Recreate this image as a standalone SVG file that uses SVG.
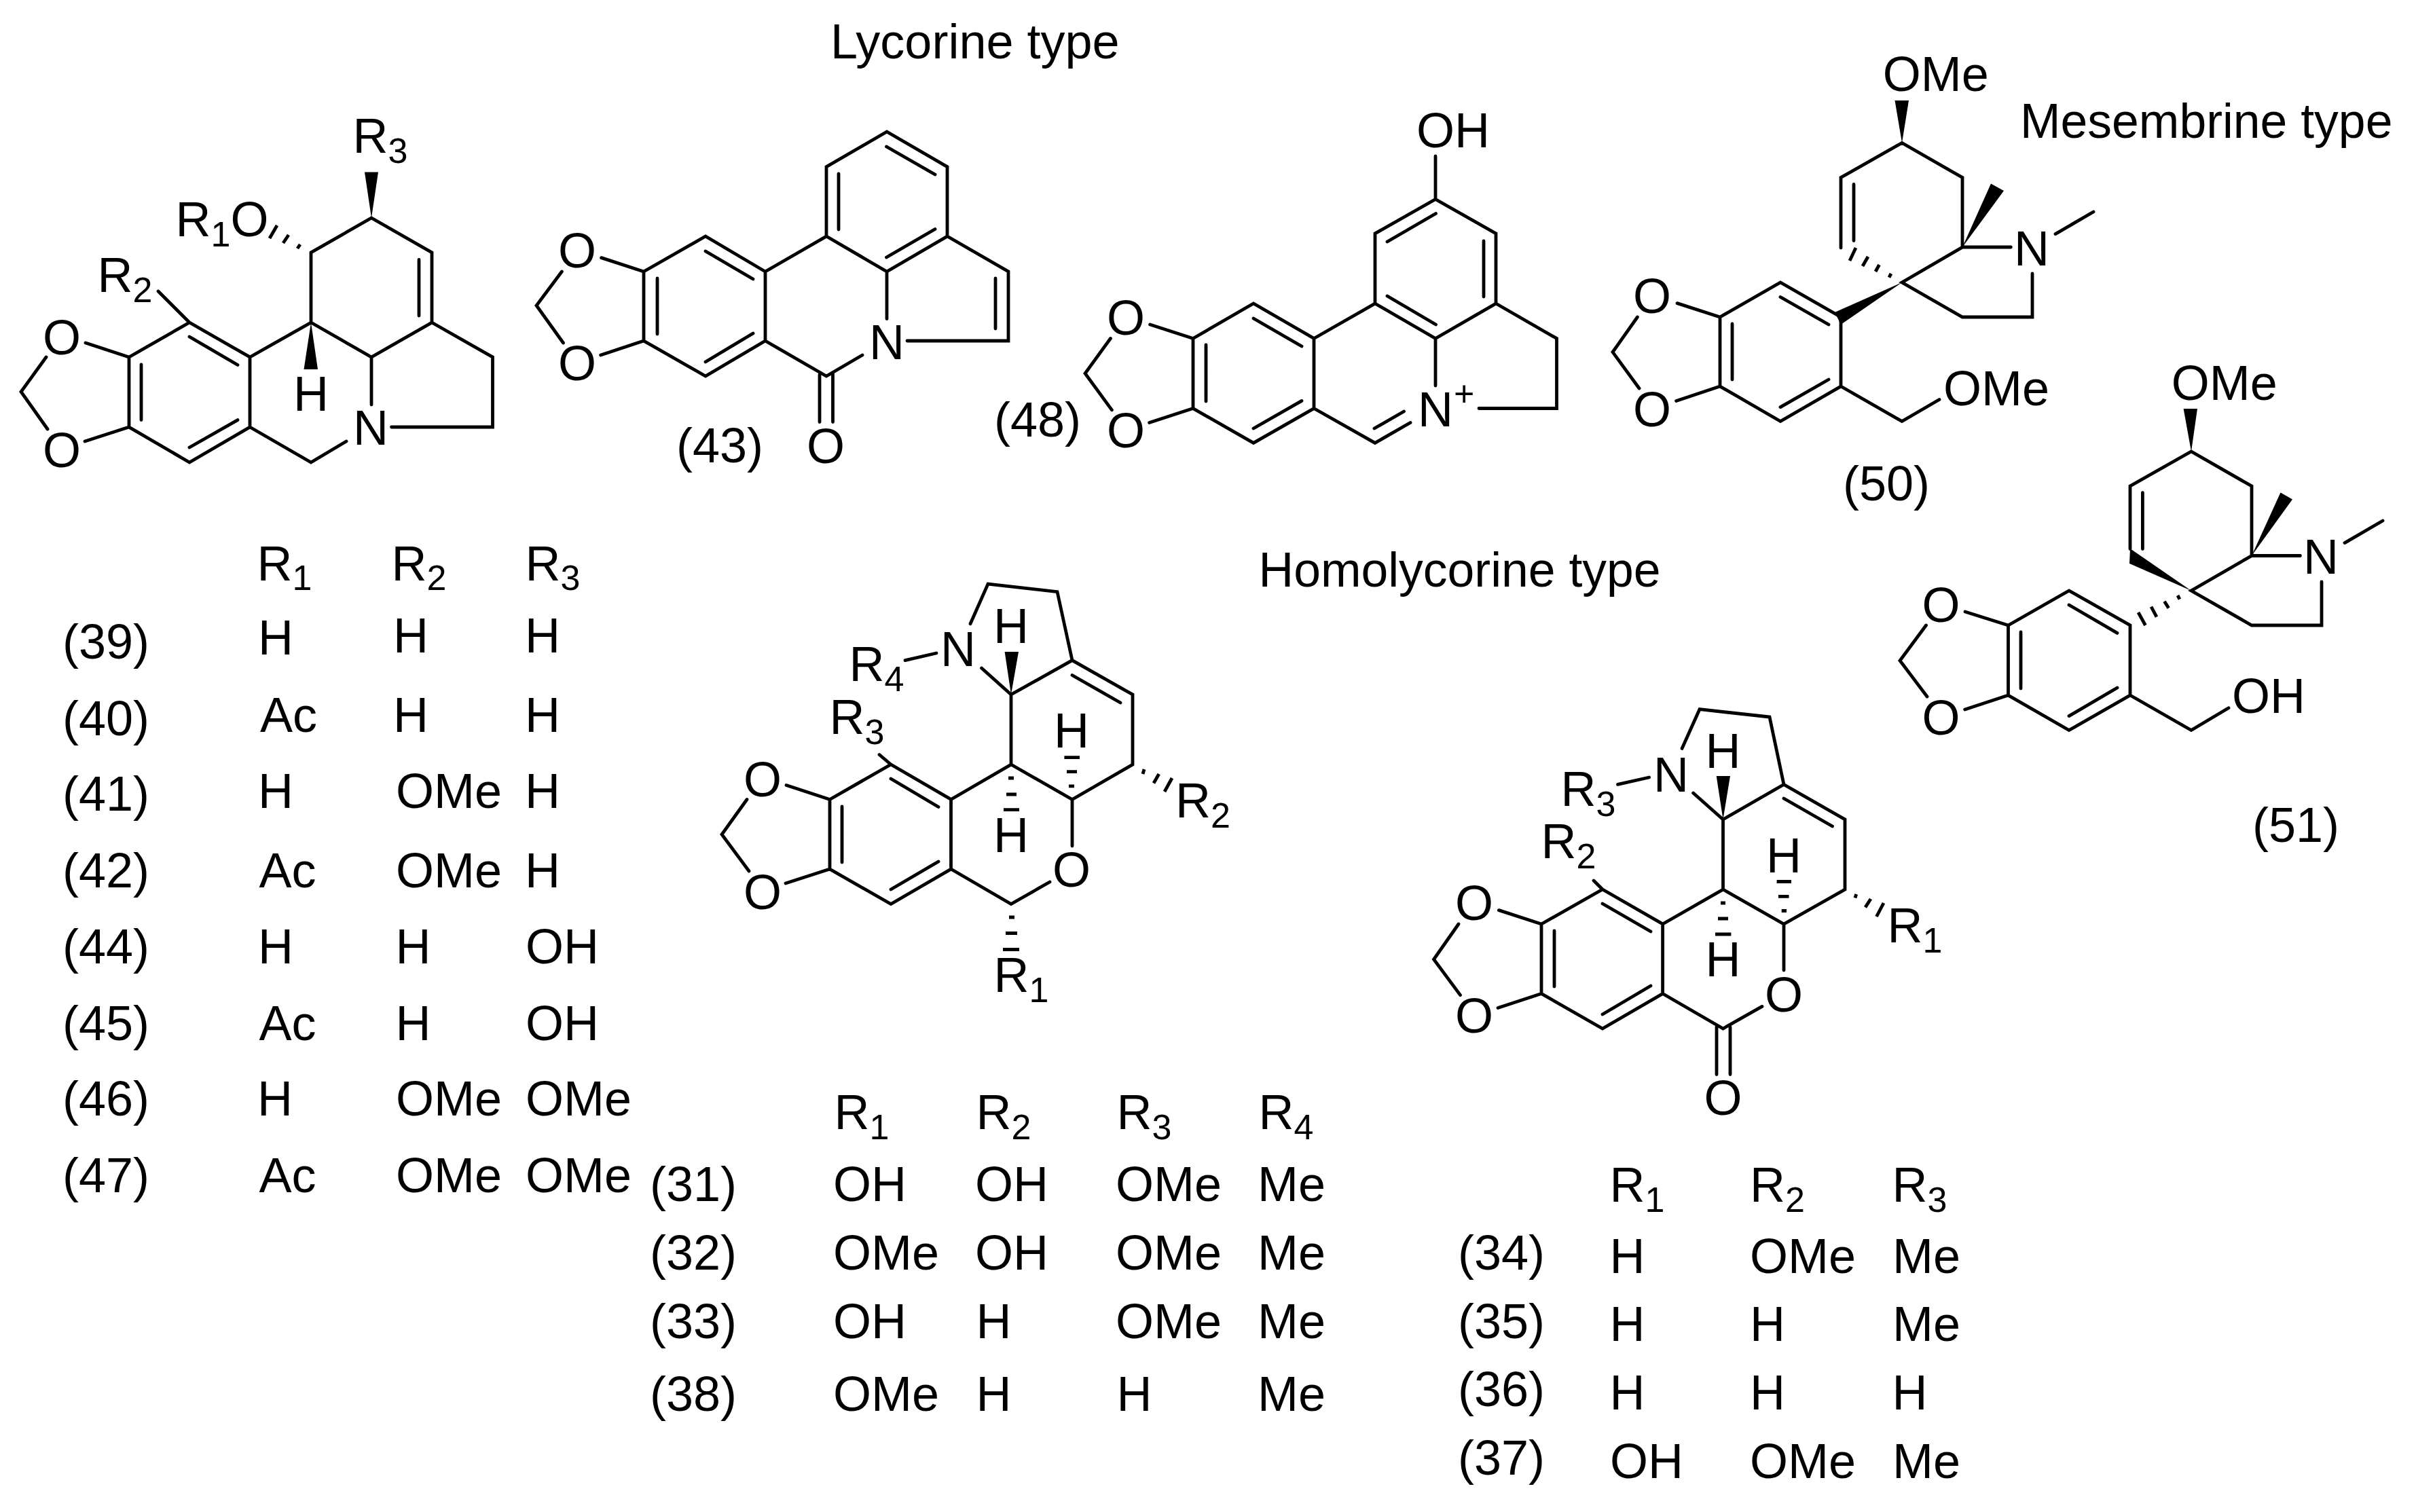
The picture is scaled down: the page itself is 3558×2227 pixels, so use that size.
<svg xmlns="http://www.w3.org/2000/svg" width="3558" height="2227" viewBox="0 0 3558 2227">
<style>
text{font-family:"Liberation Sans",Arial,sans-serif;font-size:72px;fill:#000}
.m{text-anchor:middle}
.s{font-size:52px}
.b{fill:none;stroke:#000;stroke-width:4.8;stroke-linecap:round;stroke-linejoin:miter}
.h{fill:none;stroke:#000;stroke-width:4.8}
.w{fill:#000}
</style>
<rect width="3558" height="2227" fill="#fff"/>
<g id="titles">
<text x="1223" y="86">Lycorine type</text>
<text x="2975" y="203" style="font-size:71.5px">Mesembrine type</text>
<text x="1853.5" y="864" style="font-size:71.5px">Homolycorine type</text>
</g>
<g id="connectors">
<g id="bonds-39-47">
<path class="b" d="M190 526L190 629L279 681L368 629L368 526L279 475L190 526M368 526L458 475L458 372L547 321L636 372L636 475L547 526L458 475M636 475L725.5 526L725.5 629L576.5 629M547 526L547 596M368 629L458 681L510 650M233 429L279 475M126 505L190 526M125 650L190 629M68 526L31 577L70 632M279 496L350 537.5M208 537L208 618.5M279 659L350 618.6M617 382.5L617 465"/>
<path class="w" d="M547 321L537 253.6L557 253.6ZM458 475L447.5 544L468 544Z"/>
<path class="h" d="M408 332L397 351M425 346L417 358M442 360L438 366"/>
</g>
<g id="bonds-43">
<path class="b" d="M948 400L948 502L1039 554L1127 502L1127 400L1039 348L948 400M1127 400L1217 348L1217 245.7L1306 194L1395 245.7L1395 348L1306 400L1217 348M1395 348L1485 400L1485 502L1336 502M1306 400L1306 469.5M1127 502L1217 554L1270 523M885.6 379.6L948 400M884.6 523L948 502M827.4 400L790 450L829.5 505M1039 370L1109 411M968 410L968 492M1039 533L1109 491M1235 256L1235 338M1305.5 216L1377 257M1305.5 379L1377 337.5M1466 410L1466 484M1207 552L1207 621.5M1226.5 550L1226.5 621.5"/>
</g>
<g id="bonds-48">
<path class="b" d="M1757 498.5L1757 601.5L1846 652.4L1935 601.5L1935 498.5L1846 447L1757 498.5M1935 498.5L2025 447L2025 344L2114 293.4L2203 344L2203 447L2114 498.5L2025 447M2114 230L2114 293.4M2203 447L2292.5 498.5L2292.5 601.5L2178 601.5M2114 498.5L2114 568M1935 601.5L2025 652.4L2077 622.5M2024 631L2067.5 606M1693.6 478L1757 498.5M1692.6 622.5L1757 601.5M1635.4 498.5L1598 550L1637.4 603.8M1846 469L1917 510M1776 508L1776 591M1846 631L1917 590.4M2043 356L2114.5 314.5M2185 355L2185 437M2043 436L2114.5 478"/>
</g>
<g id="bonds-50">
<path class="b" d="M2711 365L2711 261.5L2801 210.5L2890 261.5L2890 364L2801 416L2890 467L2993 467L2993 403M2890 364L2961.4 364M3027 344.6L3083 312M2730 271.5L2730 354.5M2533 467L2533 569L2622 620.6L2711 569L2711 467L2622 416L2533 467M2622 437.5L2693 478M2551 477L2551 559M2622 599.6L2693 559M2711 569L2801 620.6L2856 588.5M2470 446.6L2533 467M2468.6 590.5L2533 569M2411.4 467L2375 518.6L2414 572"/>
<path class="w" d="M2801 210.5L2790.5 148L2811 148ZM2890 364L2932 270.6L2951 281ZM2801 416L2702 460L2711 478Z"/>
<path class="h" d="M2733 365L2724 384M2751 378L2743 392M2767.5 390L2762 400M2785 403L2782 408.6"/>
</g>
<g id="bonds-51">
<path class="b" d="M3137 808.6L3137 716L3227 665L3316 716L3316 818.5L3227 870L3316 921L3419 921L3419 857M3316 818.5L3387.5 818.5M3453 799.6L3509 767M3155.4 725.6L3155.4 808.6M2957.5 921L2957.5 1024L3047 1075.5L3137 1024L3137 921L3047 870L2957.5 921M3047 891L3118 932.4M2976 931L2976 1014M3047 1054.6L3118 1013M3137 1024L3227 1075.5L3282 1042.7M2894 901L2957.5 921M2893.7 1045L2957.5 1024M2836.5 921L2798 973L2838 1026"/>
<path class="w" d="M3227 665L3215.6 602L3236 602ZM3316 818.5L3358.5 725.6L3376 735.5ZM3227 870L3137 808L3136 830Z"/>
<path class="h" d="M3149 902L3159.5 921M3168 893.6L3176 908.7M3187.5 885.8L3193.7 895.6M3207 877L3210 882.6"/>
</g>
<g id="bonds-31-38">
<path class="b" d="M1222 1177.5L1222 1280L1312 1331.6L1400.5 1280L1400.5 1177.5L1312 1126L1222 1177.5M1400.5 1177.5L1489 1126L1489 1023L1579 972.6L1668 1023L1668 1126L1579 1177.5L1489 1126M1579 1177.5L1579 1246M1400.5 1280L1489 1331.6L1546 1299M1579 972.6L1557 871.6L1455 860L1429 918.7M1445.5 984L1489 1023M1333 972.6L1379 962M1312 1126L1295 1111.5M1579 994.5L1650 1035M1312 1147L1382 1188.5M1240 1188L1240 1270M1312 1310L1382 1269M1158 1156.5L1222 1177.5M1157 1301L1222 1280M1100 1177.5L1063 1229L1103 1283"/>
<path class="w" d="M1489 1023L1479.6 960L1500 960Z"/>
<path class="h" d="M1574 1157.8L1582 1157.8M1571 1136.7L1586 1136.7M1567.4 1115.7L1590 1115.7M1485 1146L1493 1146M1482 1170L1497 1170M1478 1192.7L1501 1192.7M1685 1133L1683 1140M1706.7 1140L1699 1153.5M1726 1146L1715 1166M1486 1351L1494 1351M1481 1374.5L1498 1374.5M1477 1398.5L1501 1398.5"/>
</g>
<g id="bonds-34-37">
<path class="b" d="M2270 1361L2270 1463.5L2360 1515L2448.6 1463.5L2448.6 1361L2360 1310L2270 1361M2448.6 1361L2537.5 1310L2537.5 1207L2627 1155.4L2717 1207L2717 1310L2627 1361L2537.5 1310M2627 1361L2627 1429M2448.6 1463.5L2537.5 1515L2595 1482.4M2627 1155.4L2606 1056L2503 1044.7L2477 1102.4M2493.6 1168L2537.5 1207M2382.5 1155.4L2428.6 1145M2360 1310L2347 1297M2528 1512.7L2528 1582.6M2548 1512.7L2548 1582.6M2627 1176L2698.5 1217M2360 1331L2431 1372M2289 1371L2289 1453M2360 1494L2431 1452M2207.4 1340.6L2270 1361M2206 1484.5L2270 1463.5M2148 1361L2111.5 1413L2150.5 1465.6"/>
<path class="w" d="M2537.5 1207L2527.7 1143L2548 1143Z"/>
<path class="h" d="M2623.7 1341.5L2631 1341.5M2619 1320.4L2634.5 1320.4M2616.6 1298.5L2638 1298.5M2534 1330L2541 1330M2530 1353L2545 1353M2526 1376L2549.4 1376M2733.7 1317L2732 1322.5M2755 1324L2747 1336.4M2774 1330L2763.5 1350"/>
</g>
</g>
<g id="mol-39-47">
<text class="m" x="91" y="521.5">O</text>
<text class="m" x="91" y="688">O</text>
<text x="143.5" y="430">R<tspan class="s" dy="15">2</tspan></text>
<text x="258.5" y="348">R<tspan class="s" dy="15">1</tspan><tspan dy="-15">O</tspan></text>
<text x="519.5" y="225">R<tspan class="s" dy="15">3</tspan></text>
<text class="m" x="458" y="605">H</text>
<text class="m" x="546" y="655">N</text>
</g>
<g id="mol-43">
<text class="m" x="850" y="394">O</text>
<text class="m" x="850" y="560">O</text>
<text class="m" x="1306" y="529">N</text>
<text class="m" x="1216" y="682">O</text>
<text x="996" y="681">(43)</text>
</g>
<g id="mol-48">
<text x="2086" y="217">OH</text>
<text class="m" x="1658" y="493">O</text>
<text class="m" x="1658" y="659">O</text>
<text class="m" x="2114" y="627.5">N</text>
<text class="s" x="2141" y="598">+</text>
<text x="1464" y="643">(48)</text>
</g>
<g id="mol-50">
<text x="2772.7" y="134">OMe</text>
<text class="m" x="2992" y="391">N</text>
<text class="m" x="2433" y="461">O</text>
<text class="m" x="2433" y="628">O</text>
<text x="2862" y="596.5">OMe</text>
<text x="2714" y="737">(50)</text>
</g>
<g id="mol-51">
<text x="3197.7" y="589">OMe</text>
<text class="m" x="3418" y="845">N</text>
<text class="m" x="2858.5" y="916">O</text>
<text class="m" x="2858.5" y="1082">O</text>
<text x="3287" y="1050">OH</text>
<text x="3317" y="1240">(51)</text>
</g>
<g id="mol-31-38">
<text x="1250.5" y="1003">R<tspan class="s" dy="15">4</tspan></text>
<text class="m" x="1411" y="981">N</text>
<text class="m" x="1489" y="947">H</text>
<text x="1221.5" y="1081">R<tspan class="s" dy="15">3</tspan></text>
<text class="m" x="1578" y="1101">H</text>
<text class="m" x="1489" y="1254.6">H</text>
<text x="1731" y="1204">R<tspan class="s" dy="15">2</tspan></text>
<text class="m" x="1123" y="1172.5">O</text>
<text class="m" x="1123" y="1339">O</text>
<text class="m" x="1578" y="1306">O</text>
<text x="1463.5" y="1461">R<tspan class="s" dy="15">1</tspan></text>
</g>
<g id="mol-34-37">
<text x="2298.5" y="1186.6">R<tspan class="s" dy="15">3</tspan></text>
<text class="m" x="2461" y="1165.5">N</text>
<text class="m" x="2537.5" y="1131">H</text>
<text x="2269.5" y="1264">R<tspan class="s" dy="15">2</tspan></text>
<text class="m" x="2627" y="1284.6">H</text>
<text class="m" x="2537.5" y="1438">H</text>
<text x="2779.5" y="1387.7">R<tspan class="s" dy="15">1</tspan></text>
<text class="m" x="2171" y="1355">O</text>
<text class="m" x="2171" y="1521">O</text>
<text class="m" x="2627" y="1489.6">O</text>
<text class="m" x="2537.5" y="1642">O</text>
</g>
<g id="table-39-47">
<text x="378.5" y="855">R<tspan class="s" dy="14">1</tspan></text>
<text x="576.5" y="855">R<tspan class="s" dy="14">2</tspan></text>
<text x="773.5" y="855">R<tspan class="s" dy="14">3</tspan></text>
<text x="92" y="970">(39)</text><text x="380" y="964">H</text><text x="579" y="961">H</text><text x="773" y="961">H</text>
<text x="92" y="1082.5">(40)</text><text x="383" y="1078">Ac</text><text x="579" y="1078">H</text><text x="773" y="1078">H</text>
<text x="92" y="1194">(41)</text><text x="380" y="1190">H</text><text x="583" y="1190">OMe</text><text x="773" y="1190">H</text>
<text x="92" y="1307">(42)</text><text x="381.5" y="1307">Ac</text><text x="583" y="1307">OMe</text><text x="773" y="1307">H</text>
<text x="92" y="1419">(44)</text><text x="380" y="1419">H</text><text x="582.5" y="1419">H</text><text x="774" y="1419">OH</text>
<text x="92" y="1531.5">(45)</text><text x="381.5" y="1531.5">Ac</text><text x="582.5" y="1531.5">H</text><text x="774" y="1531.5">OH</text>
<text x="92" y="1643">(46)</text><text x="379" y="1643">H</text><text x="583" y="1643">OMe</text><text x="774" y="1643">OMe</text>
<text x="92" y="1756">(47)</text><text x="381.5" y="1756">Ac</text><text x="583" y="1756">OMe</text><text x="774" y="1756">OMe</text>
</g>
<g id="table-31-38">
<text x="1228.5" y="1663">R<tspan class="s" dy="15">1</tspan></text>
<text x="1437.5" y="1663">R<tspan class="s" dy="15">2</tspan></text>
<text x="1644.5" y="1663">R<tspan class="s" dy="15">3</tspan></text>
<text x="1853.5" y="1663">R<tspan class="s" dy="15">4</tspan></text>
<text x="957" y="1769">(31)</text><text x="1227" y="1769">OH</text><text x="1436" y="1769">OH</text><text x="1643" y="1769">OMe</text><text x="1852" y="1769">Me</text>
<text x="957" y="1870">(32)</text><text x="1227" y="1870">OMe</text><text x="1436" y="1870">OH</text><text x="1643" y="1870">OMe</text><text x="1852" y="1870">Me</text>
<text x="957" y="1971.4">(33)</text><text x="1227" y="1971.4">OH</text><text x="1437.5" y="1971.4">H</text><text x="1643" y="1971.4">OMe</text><text x="1852" y="1971.4">Me</text>
<text x="957" y="2077.6">(38)</text><text x="1227" y="2077.6">OMe</text><text x="1437.5" y="2077.6">H</text><text x="1644.5" y="2077.6">H</text><text x="1852" y="2077.6">Me</text>
</g>
<g id="table-34-37">
<text x="2370.5" y="1770">R<tspan class="s" dy="15">1</tspan></text>
<text x="2577" y="1770">R<tspan class="s" dy="15">2</tspan></text>
<text x="2786.5" y="1770">R<tspan class="s" dy="15">3</tspan></text>
<text x="2147" y="1870">(34)</text><text x="2370.5" y="1875">H</text><text x="2577" y="1875">OMe</text><text x="2787" y="1875">Me</text>
<text x="2147" y="1970.5">(35)</text><text x="2370.5" y="1975.4">H</text><text x="2577" y="1975.4">H</text><text x="2787" y="1975.4">Me</text>
<text x="2147" y="2071">(36)</text><text x="2370.5" y="2076">H</text><text x="2577" y="2076">H</text><text x="2786.5" y="2076">H</text>
<text x="2147" y="2171.6">(37)</text><text x="2371" y="2176.5">OH</text><text x="2577" y="2176.5">OMe</text><text x="2787" y="2176.5">Me</text>
</g>
</svg>
